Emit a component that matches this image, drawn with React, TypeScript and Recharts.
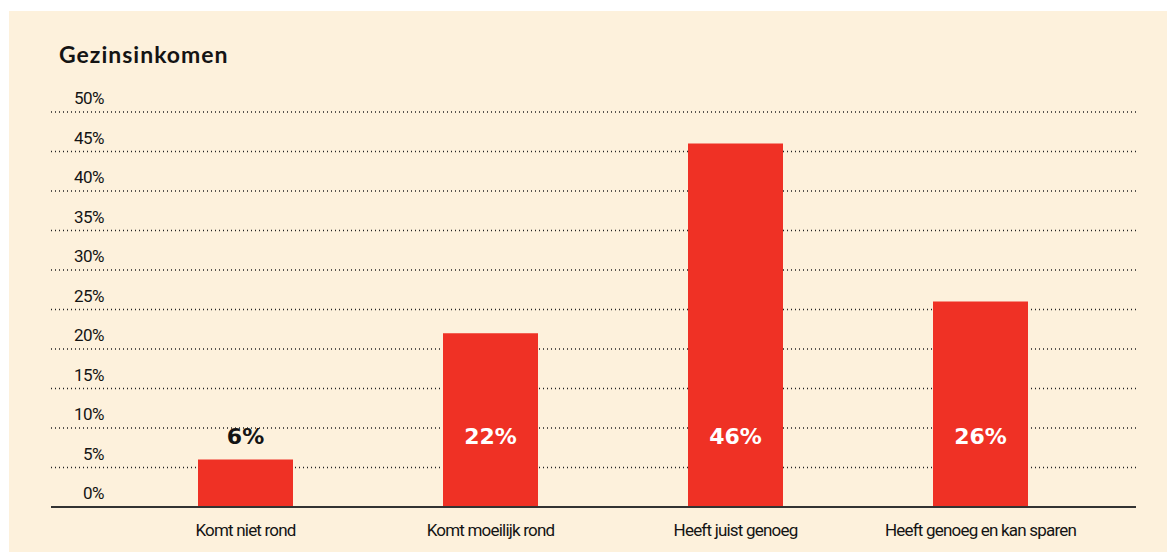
import React from 'react';
import { BarChart, Bar, XAxis, YAxis, CartesianGrid, LabelList, ReferenceLine } from 'recharts';

const categories = ['Komt niet rond', 'Komt moeilijk rond', 'Heeft juist genoeg', 'Heeft genoeg en kan sparen'];
const shares = [6, 22, 46, 26];
const yTicks = [0, 5, 10, 15, 20, 25, 30, 35, 40, 45, 50];

const data = categories.map((name, i) => ({ name, value: shares[i] }));

const RED = '#ef3125';
const INK = '#141414';
const CONDENSED = 'Roboto, sans-serif';

const YTick = (props: any) => {
  const { y, payload } = props;
  return (
    <text x={104} y={y - 12} textAnchor="end" dominantBaseline="middle"
      fontFamily={CONDENSED} fontSize={17} letterSpacing={-0.5} fill={INK}>
      {payload.value}%
    </text>
  );
};

const XTick = (props: any) => {
  const { x, y, payload } = props;
  return (
    <text x={x} y={y + 17} textAnchor="middle" dominantBaseline="middle"
      fontFamily={CONDENSED} fontSize={17} letterSpacing={-0.8} fill={INK}>
      {payload.value}
    </text>
  );
};

const BarLabel = (props: any) => {
  const { x, y, width, height, value } = props;
  const bottom = y + height;
  const ly = bottom - 69;
  const inside = y < ly - 16;
  return (
    <text x={x + width / 2} y={ly} textAnchor="middle" dominantBaseline="middle"
      fontFamily="'DejaVu Sans', sans-serif" fontWeight={700} fontSize={22}
      fill={inside ? '#ffffff' : INK}>
      {value}%
    </text>
  );
};

export default function App() {
  return (
    <div style={{ position: 'absolute', left: 0, top: 0, width: 1167, height: 552, background: '#ffffff' }}>
      <div style={{ position: 'absolute', left: 9, top: 11, width: 1158, height: 541, background: '#fdf1dc' }} />
      <div style={{
        position: 'absolute', left: 59, top: 40, fontFamily: 'Lato, sans-serif', fontWeight: 700,
        fontSize: 23, color: INK, letterSpacing: 1,
      }}>
        Gezinsinkomen
      </div>
      <div style={{ position: 'absolute', left: 0, top: 0 }}>
        <BarChart width={1167} height={552} data={data}
          margin={{ top: 112, right: 31, bottom: 15, left: 50 }} barCategoryGap={0}>
          <CartesianGrid vertical={false} stroke="#222" strokeDasharray="1 3" strokeWidth={1.3} />
          <XAxis dataKey="name" axisLine={false} tickLine={false} height={30}
            padding={{ left: 72, right: 33 }} tick={<XTick />} interval={0} />
          <YAxis domain={[0, 50]} ticks={yTicks} axisLine={false} tickLine={false} width={1}
            tick={<YTick />} interval={0} />
          <Bar dataKey="value" fill={RED} barSize={95} isAnimationActive={false}>
            <LabelList dataKey="value" content={<BarLabel />} />
          </Bar>
          <ReferenceLine y={0} stroke="#333" strokeWidth={2} />
        </BarChart>
      </div>
    </div>
  );
}
